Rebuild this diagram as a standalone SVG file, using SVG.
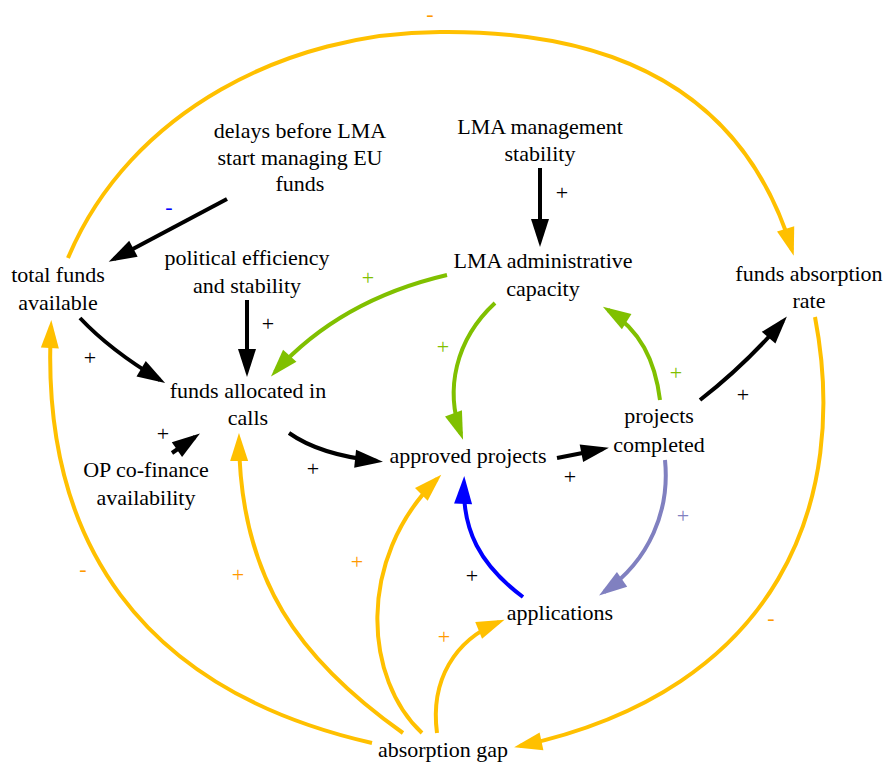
<svg xmlns="http://www.w3.org/2000/svg" width="888" height="764" viewBox="0 0 888 764">
<style>
.n{font-family:Liberation Serif, Times New Roman, serif;font-size:22px;fill:#000;text-anchor:middle}
.l{font-family:Liberation Serif, Times New Roman, serif;font-size:22px;text-anchor:middle}
.e{fill:none;stroke-width:4}
.k{stroke:#000}.y{stroke:#ffc000}.g{stroke:#80c000}.b{stroke:#0000ff}.v{stroke:#8080c0}
</style>
<defs>
<marker id="mk" markerUnits="userSpaceOnUse" markerWidth="28" markerHeight="18" refX="22" refY="9" orient="auto" overflow="visible"><path d="M0,0 L28,9 L0,18 z" fill="#000"/></marker>
<marker id="my" markerUnits="userSpaceOnUse" markerWidth="28" markerHeight="18" refX="22" refY="9" orient="auto" overflow="visible"><path d="M0,0 L28,9 L0,18 z" fill="#ffc000"/></marker>
<marker id="mg" markerUnits="userSpaceOnUse" markerWidth="28" markerHeight="18" refX="22" refY="9" orient="auto" overflow="visible"><path d="M0,0 L28,9 L0,18 z" fill="#80c000"/></marker>
<marker id="mb" markerUnits="userSpaceOnUse" markerWidth="28" markerHeight="18" refX="22" refY="9" orient="auto" overflow="visible"><path d="M0,0 L28,9 L0,18 z" fill="#0000ff"/></marker>
<marker id="mv" markerUnits="userSpaceOnUse" markerWidth="28" markerHeight="18" refX="22" refY="9" orient="auto" overflow="visible"><path d="M0,0 L28,9 L0,18 z" fill="#8080c0"/></marker>
</defs>
<rect width="888" height="764" fill="#fff"/>
<g id="connectors">
<path class="e y" d="M372,743 C140,690 40,540 51,326" marker-end="url(#my)"/>
<path class="e y" d="M68,258 C130,110 290,32 440,32 C620,30 745,95 792,250" marker-end="url(#my)"/>
<path class="e y" d="M815,317 C850,500 780,690 520,746" marker-end="url(#my)"/>
<path class="e k" d="M227,199 L114,259" marker-end="url(#mk)"/>
<path class="e k" d="M80,318 Q110,350 160,380" marker-end="url(#mk)"/>
<path class="e k" d="M247,300 L247,371" marker-end="url(#mk)"/>
<path class="e g" d="M447,275 Q340,300 275,372" marker-end="url(#mg)"/>
<path class="e k" d="M172,453 L195,437" marker-end="url(#mk)"/>
<path class="e k" d="M289,433 Q320,455 377,461" marker-end="url(#mk)"/>
<path class="e k" d="M540,168 L540,241" marker-end="url(#mk)"/>
<path class="e g" d="M495,303 C455,340 445,390 461,434" marker-end="url(#mg)"/>
<path class="e g" d="M660,400 C655,360 640,330 608,310" marker-end="url(#mg)"/>
<path class="e k" d="M557,458 L603,449" marker-end="url(#mk)"/>
<path class="e k" d="M700,400 Q745,365 783,321" marker-end="url(#mk)"/>
<path class="e v" d="M665,460 C670,510 650,560 604,592" marker-end="url(#mv)"/>
<path class="e b" d="M523,597 C480,565 462,530 464,482" marker-end="url(#mb)"/>
<path class="e y" d="M437,733 C430,680 455,640 499,622" marker-end="url(#my)"/>
<path class="e y" d="M422,733 C365,680 355,560 437,479" marker-end="url(#my)"/>
<path class="e y" d="M403,733 C300,660 240,580 239,439" marker-end="url(#my)"/>
</g>
<g id="labels">
<text class="l" x="430" y="21" fill="#ff9900">-</text>
<text class="l" x="169" y="214" fill="#0000ff">-</text>
<text class="l" x="83" y="576" fill="#ff9900">-</text>
<text class="l" x="771" y="625" fill="#ff9900">-</text>
<text class="l" x="90" y="365" fill="#000">+</text>
<text class="l" x="268" y="331" fill="#000">+</text>
<text class="l" x="368" y="285" fill="#80c000">+</text>
<text class="l" x="443" y="354" fill="#80c000">+</text>
<text class="l" x="163" y="441" fill="#000">+</text>
<text class="l" x="313" y="476" fill="#000">+</text>
<text class="l" x="562" y="200" fill="#000">+</text>
<text class="l" x="676" y="380" fill="#80c000">+</text>
<text class="l" x="743" y="402" fill="#000">+</text>
<text class="l" x="570" y="484" fill="#000">+</text>
<text class="l" x="683" y="523" fill="#8080c0">+</text>
<text class="l" x="472" y="583" fill="#000">+</text>
<text class="l" x="444" y="644" fill="#ff9900">+</text>
<text class="l" x="357" y="569" fill="#ff9900">+</text>
<text class="l" x="238" y="582" fill="#ff9900">+</text>
</g>
<g id="nodes">
<g id="delays"><text class="n" x="300" y="138">delays before LMA</text><text class="n" x="300" y="165">start managing EU</text><text class="n" x="300" y="191">funds</text></g>
<g id="lma_management"><text class="n" x="540" y="134">LMA management</text><text class="n" x="540" y="161">stability</text></g>
<g id="total_funds"><text class="n" x="58" y="282">total funds</text><text class="n" x="58" y="310">available</text></g>
<g id="political"><text class="n" x="247" y="265">political efficiency</text><text class="n" x="247" y="293">and stability</text></g>
<g id="lma_admin"><text class="n" x="543" y="268">LMA administrative</text><text class="n" x="543" y="296">capacity</text></g>
<g id="absorption_rate"><text class="n" x="809" y="281">funds absorption</text><text class="n" x="809" y="308">rate</text></g>
<g id="funds_allocated"><text class="n" x="248" y="398">funds allocated in</text><text class="n" x="248" y="425">calls</text></g>
<g id="op_cofinance"><text class="n" x="146" y="477">OP co-finance</text><text class="n" x="146" y="505">availability</text></g>
<g id="approved"><text class="n" x="468" y="463">approved projects</text></g>
<g id="completed"><text class="n" x="659" y="423">projects</text><text class="n" x="659" y="452">completed</text></g>
<g id="applications"><text class="n" x="560" y="620">applications</text></g>
<g id="absorption_gap"><text class="n" x="443" y="757">absorption gap</text></g>
</g>
</svg>
